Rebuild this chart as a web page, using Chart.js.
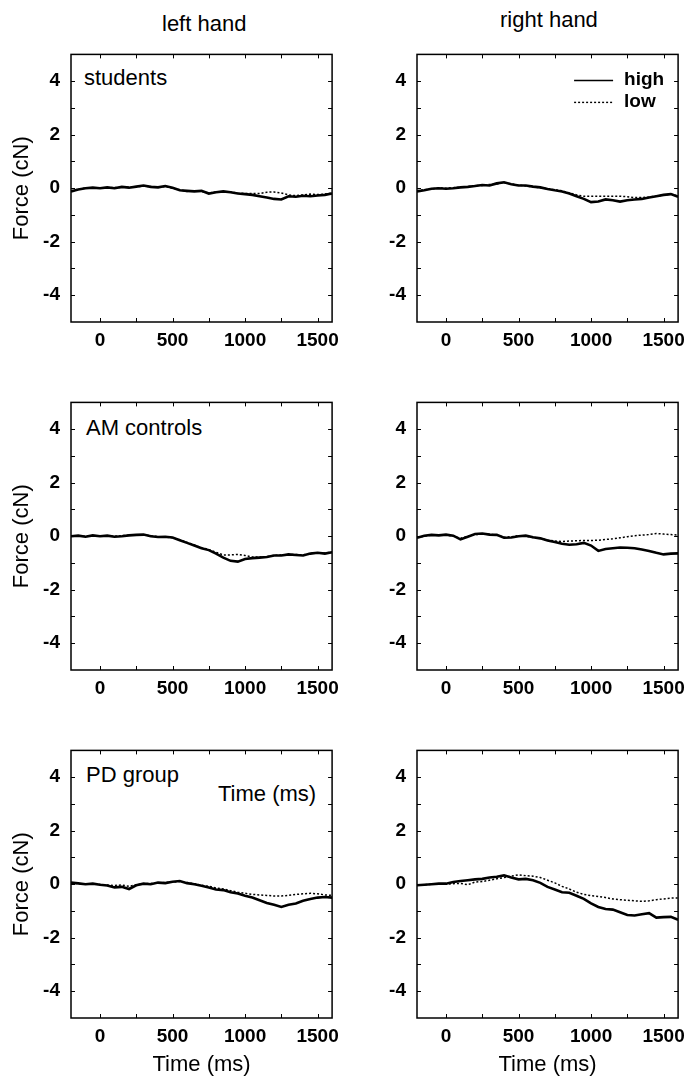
<!DOCTYPE html>
<html>
<head>
<meta charset="utf-8">
<script src="https://cdn.jsdelivr.net/npm/chart.js@4.4.0/dist/chart.umd.min.js"></script>
<style>
  html, body { margin: 0; padding: 0; background: #fff; }
  #page { position: relative; width: 699px; height: 1079px; overflow: hidden;
          font-family: "Liberation Sans", Arial, sans-serif; color: #000; }
  #page canvas { position: absolute; }
  .txt { position: absolute; font-size: 22px; line-height: 26px; white-space: nowrap; }
</style>
</head>
<body>
<div id="page">
  <div class="txt" style="left:162px;top:11px">left hand</div>
  <div class="txt" style="left:500px;top:7px">right hand</div>
  <div class="txt" style="left:84px;top:65px">students</div>
  <div class="txt" style="left:86px;top:415px">AM controls</div>
  <div class="txt" style="left:86px;top:762px">PD group</div>
  <div class="txt" style="left:218px;top:781px">Time (ms)</div>
</div>

<script>
// time axis (ms), one sample every 50 ms
const timeMs = [-200, -150, -100, -50, 0, 50, 100, 150, 200, 250, 300, 350, 400, 450, 500, 550, 600, 650,
    700, 750, 800, 850, 900, 950, 1000, 1050, 1100, 1150, 1200, 1250, 1300, 1350, 1400, 1450, 1500, 1550, 1600];

const xTicks = [0, 500, 1000, 1500];
const yTicks = [-4, -2, 0, 2, 4];
const xMinor = [0, 250, 500, 750, 1000, 1250, 1500];
const yMinor = [-4, -3, -2, -1, 0, 1, 2, 3, 4];

// force (cN), "high" and "low" conditions
const studentsLeftHigh = [-0.12, -0.05, 0.0, 0.02, 0.0, 0.03, 0.0, 0.05, 0.02, 0.06, 0.1, 0.05, 0.03, 0.08, 0.02, -0.08,
    -0.1, -0.12, -0.1, -0.2, -0.15, -0.12, -0.15, -0.2, -0.22, -0.25, -0.3, -0.35, -0.4, -0.42, -0.3, -0.32, -0.28, -0.3,
    -0.27, -0.25, -0.2];
const studentsLeftLow = [-0.1, -0.04, 0.01, 0.0, 0.02, 0.0, 0.03, 0.03, 0.04, 0.05, 0.08, 0.06, 0.04, 0.06, 0.0, -0.06,
    -0.12, -0.1, -0.12, -0.18, -0.14, -0.13, -0.14, -0.18, -0.2, -0.2, -0.2, -0.15, -0.14, -0.18, -0.25, -0.28, -0.25,
    -0.22, -0.24, -0.22, -0.18];

const studentsRightHigh = [-0.12, -0.08, -0.02, 0.0, -0.02, 0.0, 0.03, 0.05, 0.08, 0.12, 0.1, 0.18, 0.22, 0.15, 0.1, 0.1,
    0.06, 0.03, -0.03, -0.08, -0.12, -0.2, -0.3, -0.4, -0.52, -0.5, -0.42, -0.45, -0.5, -0.45, -0.42, -0.4, -0.35, -0.3,
    -0.25, -0.22, -0.32];
const studentsRightLow = [-0.1, -0.06, -0.03, 0.01, 0.0, 0.02, 0.04, 0.06, 0.1, 0.1, 0.14, 0.16, 0.2, 0.16, 0.12, 0.08,
    0.05, 0.02, -0.02, -0.06, -0.1, -0.18, -0.25, -0.3, -0.3, -0.3, -0.3, -0.3, -0.3, -0.32, -0.35, -0.35, -0.33, -0.3,
    -0.26, -0.22, -0.3];

const amLeftHigh = [0.0, 0.02, -0.02, 0.03, 0.0, 0.02, -0.02, 0.0, 0.03, 0.05, 0.06, 0.0, -0.03, -0.02, -0.05, -0.15,
    -0.25, -0.35, -0.45, -0.52, -0.65, -0.8, -0.92, -0.95, -0.85, -0.82, -0.8, -0.78, -0.72, -0.72, -0.68, -0.7, -0.72,
    -0.65, -0.62, -0.65, -0.6];
const amLeftLow = [0.02, 0.0, 0.0, 0.02, 0.01, 0.0, 0.0, 0.02, 0.04, 0.04, 0.05, 0.02, -0.02, -0.03, -0.06, -0.13,
    -0.23, -0.33, -0.43, -0.5, -0.6, -0.7, -0.7, -0.68, -0.72, -0.78, -0.78, -0.76, -0.72, -0.7, -0.68, -0.68, -0.7,
    -0.64, -0.62, -0.63, -0.6];

const amRightHigh = [-0.06, 0.02, 0.05, 0.03, 0.06, 0.02, -0.12, -0.02, 0.08, 0.1, 0.06, 0.05, -0.06, -0.05, 0.0, 0.02,
    -0.04, -0.08, -0.16, -0.22, -0.28, -0.32, -0.3, -0.25, -0.35, -0.55, -0.48, -0.45, -0.42, -0.43, -0.45, -0.5, -0.55,
    -0.62, -0.68, -0.65, -0.64];
const amRightLow = [-0.04, 0.0, 0.04, 0.05, 0.04, 0.0, -0.08, 0.0, 0.06, 0.08, 0.07, 0.04, -0.04, -0.02, 0.02, 0.0,
    -0.05, -0.08, -0.14, -0.18, -0.2, -0.18, -0.17, -0.16, -0.16, -0.15, -0.12, -0.1, -0.06, -0.02, 0.02, 0.04, 0.06,
    0.1, 0.08, 0.06, 0.04];

const pdLeftHigh = [0.06, 0.03, 0.0, 0.02, -0.02, -0.05, -0.12, -0.1, -0.18, -0.04, 0.02, 0.0, 0.06, 0.04, 0.09, 0.12,
    0.04, 0.0, -0.06, -0.12, -0.2, -0.22, -0.3, -0.35, -0.43, -0.5, -0.6, -0.7, -0.77, -0.85, -0.77, -0.72, -0.62,
    -0.55, -0.5, -0.48, -0.5];
const pdLeftLow = [0.05, 0.02, 0.01, 0.0, -0.01, -0.03, -0.05, -0.03, -0.08, -0.02, 0.02, 0.03, 0.05, 0.06, 0.08, 0.1,
    0.06, 0.02, -0.04, -0.08, -0.14, -0.18, -0.24, -0.3, -0.34, -0.38, -0.4, -0.42, -0.44, -0.44, -0.42, -0.38, -0.36,
    -0.34, -0.36, -0.4, -0.42];

const pdRightHigh = [-0.04, -0.02, 0.0, 0.02, 0.02, 0.08, 0.12, 0.15, 0.18, 0.2, 0.25, 0.28, 0.33, 0.25, 0.18, 0.2,
    0.15, 0.05, -0.1, -0.2, -0.3, -0.32, -0.43, -0.55, -0.72, -0.85, -0.93, -0.95, -1.05, -1.15, -1.17, -1.12, -1.08,
    -1.25, -1.23, -1.22, -1.33];
const pdRightLow = [-0.04, -0.02, 0.0, 0.0, 0.0, 0.02, 0.03, -0.02, 0.08, 0.1, 0.15, 0.2, 0.25, 0.3, 0.35, 0.32, 0.3,
    0.25, 0.15, 0.05, -0.08, -0.18, -0.3, -0.38, -0.43, -0.46, -0.5, -0.55, -0.58, -0.6, -0.62, -0.64, -0.62, -0.58,
    -0.55, -0.52, -0.52];

const fontFamily = '"Liberation Sans", Arial, sans-serif';
const plotSize = 270;
const colLeft = [71, 417];
const rowTop = [52, 400, 748];

const panels = [
    { row: 0, col: 0, high: studentsLeftHigh, low: studentsLeftLow },
    { row: 0, col: 1, high: studentsRightHigh, low: studentsRightLow, legend: true },
    { row: 1, col: 0, high: amLeftHigh, low: amLeftLow },
    { row: 1, col: 1, high: amRightHigh, low: amRightLow },
    { row: 2, col: 0, high: pdLeftHigh, low: pdLeftLow },
    { row: 2, col: 1, high: pdRightHigh, low: pdRightLow }
];

function toPoints(values) {
    return values.map(function (v, i) { return { x: timeMs[i], y: v }; });
}

function plainLabel(value) {
    return String(value);
}

// matlab style frame with inward ticks on all four sides
const frameTicks = {
    id: 'frameTicks',
    afterDatasetsDraw(chart) {
        const ctx = chart.ctx;
        const a = chart.chartArea;
        const xs = chart.scales.x;
        const ys = chart.scales.y;
        ctx.save();
        ctx.strokeStyle = '#000';
        ctx.lineWidth = 1.5;
        ctx.strokeRect(a.left, a.top, a.right - a.left, a.bottom - a.top);
        ctx.lineWidth = 1;
        ctx.beginPath();
        xMinor.forEach(function (v) {
            const px = Math.round(xs.getPixelForValue(v)) + 0.5;
            ctx.moveTo(px, a.bottom); ctx.lineTo(px, a.bottom - 4);
            ctx.moveTo(px, a.top); ctx.lineTo(px, a.top + 4);
        });
        yMinor.forEach(function (v) {
            const py = Math.round(ys.getPixelForValue(v)) + 0.5;
            ctx.moveTo(a.left, py); ctx.lineTo(a.left + 4, py);
            ctx.moveTo(a.right, py); ctx.lineTo(a.right - 4, py);
        });
        ctx.stroke();
        ctx.restore();
    }
};

// small legend in the top right panel
const cornerLegend = {
    id: 'cornerLegend',
    afterDraw(chart) {
        if (!chart.options.plugins.cornerLegend.show) return;
        const ctx = chart.ctx;
        const a = chart.chartArea;
        ctx.save();
        chart.data.datasets.forEach(function (ds, i) {
            const y = a.top + 26 + i * 22;
            ctx.strokeStyle = ds.borderColor;
            ctx.lineWidth = i === 0 ? 1.5 : 1.4;
            ctx.setLineDash(ds.borderDash || []);
            ctx.beginPath();
            ctx.moveTo(a.right - 104, y);
            ctx.lineTo(a.right - 65, y);
            ctx.stroke();
            ctx.setLineDash([]);
            ctx.fillStyle = '#000';
            ctx.font = 'bold 19px ' + fontFamily;
            ctx.textBaseline = 'middle';
            ctx.fillText(ds.label, a.right - 54, y - 1);
        });
        ctx.restore();
    }
};

const page = document.getElementById('page');

panels.forEach(function (p) {
    const canvas = document.createElement('canvas');
    const height = p.row === 2 ? 351 : 348;
    canvas.width = 346;
    canvas.height = height;
    canvas.style.left = (colLeft[p.col] - 71) + 'px';
    canvas.style.top = (rowTop[p.row] - 20) + 'px';
    canvas.style.width = '346px';
    canvas.style.height = height + 'px';
    page.appendChild(canvas);

    const xHeight = height - 20 - plotSize;

    new Chart(canvas.getContext('2d'), {
        type: 'line',
        data: {
            datasets: [
                {
                    label: 'high',
                    data: toPoints(p.high),
                    borderColor: '#000',
                    borderWidth: 2.6,
                    pointRadius: 0,
                    tension: 0,
                    fill: false
                },
                {
                    label: 'low',
                    data: toPoints(p.low),
                    borderColor: '#000',
                    borderWidth: 1.5,
                    borderDash: [2, 2],
                    pointRadius: 0,
                    tension: 0,
                    fill: false
                }
            ]
        },
        options: {
            responsive: false,
            animation: false,
            devicePixelRatio: 1,
            layout: { padding: { left: 0, top: 20, right: 5, bottom: 0 } },
            plugins: {
                legend: { display: false },
                tooltip: { enabled: false },
                cornerLegend: { show: !!p.legend }
            },
            scales: {
                x: {
                    type: 'linear',
                    min: -200,
                    max: 1600,
                    afterBuildTicks: function (s) { s.ticks = xTicks.map(function (v) { return { value: v }; }); },
                    afterFit: function (s) { s.height = xHeight; },
                    grid: { display: false, drawTicks: false },
                    border: { display: false },
                    ticks: {
                        color: '#000',
                        padding: 7,
                        maxRotation: 0,
                        callback: plainLabel,
                        font: { family: fontFamily, size: 19, weight: 'bold' }
                    },
                    title: {
                        display: p.row === 2,
                        text: 'Time (ms)',
                        color: '#000',
                        padding: { top: 0, bottom: 1 },
                        font: { family: fontFamily, size: 22 }
                    }
                },
                y: {
                    type: 'linear',
                    min: -5,
                    max: 5,
                    afterBuildTicks: function (s) { s.ticks = yTicks.map(function (v) { return { value: v }; }); },
                    afterFit: function (s) { s.width = 71; },
                    grid: { display: false, drawTicks: false },
                    border: { display: false },
                    ticks: {
                        color: '#000',
                        padding: 11,
                        callback: plainLabel,
                        font: { family: fontFamily, size: 19, weight: 'bold' }
                    },
                    title: {
                        display: p.col === 0,
                        text: 'Force (cN)',
                        color: '#000',
                        padding: { top: 9, bottom: 0 },
                        font: { family: fontFamily, size: 22 }
                    }
                }
            }
        },
        plugins: [frameTicks, cornerLegend]
    });
});
</script>
</body>
</html>
